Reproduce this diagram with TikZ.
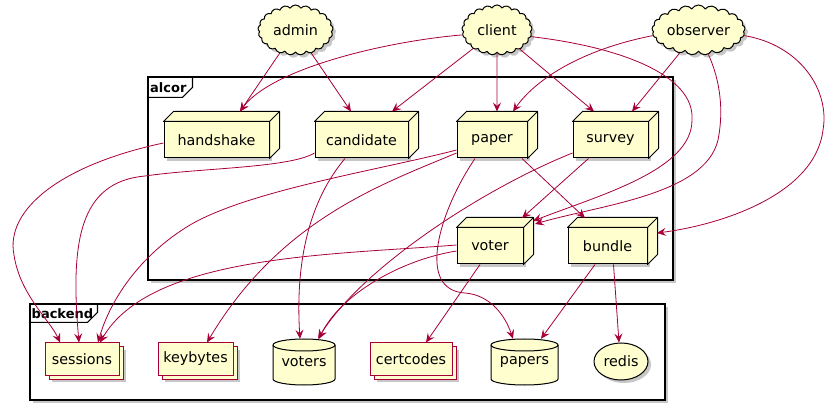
\documentclass[tikz,border=0pt]{standalone}
\usepackage{fontspec}
\setmainfont{DejaVu Sans}
\usetikzlibrary{shapes.symbols,shapes.geometric,shadows,arrows.meta,calc}
\definecolor{yel}{HTML}{FEFECE}
\definecolor{pred}{HTML}{A80036}

\newcommand\mkbox[5]{%
  \node[box3d, minimum width=#4pt] (#1) at (#2,#3) {#5};
  \path[boxface] (#1.north west) -- ++(10,-10) -| ([xshift=10pt,yshift=10pt]#1.south east) -- (#1.south east) -- (#1.north east) -- cycle;
  \draw[boxface, fill=none] (#1.north east) -- ++(10,-10);
}
\newcommand\mkcyl[5]{%
  \path[cylface] ({#2-#4},{#3-17}) -- ({#2-#4},{#3+17}) arc[start angle=180,end angle=360,x radius=#4pt,y radius=6pt] -- ({#2+#4},{#3-17}) arc[start angle=0,end angle=180,x radius=#4pt,y radius=6pt] -- cycle;
  \draw[cylface, fill=none] ({#2-#4},{#3-17}) arc[start angle=180,end angle=360,x radius=#4pt,y radius=6pt];
  \node[inner sep=0pt, minimum width={2*#4pt}, minimum height=46pt, font=\nfont] (#1) at (#2,#3) {\raisebox{-8pt}{#5}};
}
\newcommand\nfont{\fontsize{14.3}{16}\selectfont}

\begin{document}
\begin{tikzpicture}[x=1pt,y=-1pt,
  shd/.style={drop shadow={shadow xshift=3pt,shadow yshift=-3pt,opacity=0.22,fill=black}},
  cloudnode/.style={cloud, cloud puffs=21, cloud puff arc=120, cloud ignores aspect, draw=black, line width=1pt, fill=yel, inner sep=0pt, minimum height=50pt, shd, font=\nfont},
  box3d/.style={draw=black, line width=1pt, fill=yel, minimum height=36pt, inner sep=0pt, shd, font=\nfont},
  boxface/.style={draw=black, line width=1pt, fill=yel, line join=round},
  cylface/.style={draw=black, line width=1pt, fill=yel},
  stacknode/.style={draw=pred, line width=1pt, fill=yel, minimum height=32pt, inner sep=0pt,
    drop shadow={shadow xshift=7pt,shadow yshift=-7pt,opacity=0.22,fill=black},
    copy shadow={shadow xshift=4pt,shadow yshift=-4pt}, font=\nfont},
  framebox/.style={draw=black, line width=1.1pt, fill=white, shd, inner sep=0pt},
  framelabel/.style={anchor=west, inner sep=0pt, font=\bfseries\fontsize{13}{15}\selectfont},
  conn/.style={draw=pred, line width=0.8pt, -{Stealth[length=9pt,width=8pt,inset=3.5pt]}}
]
\useasboundingbox (0,0) rectangle (835,411);

% frames
\node[framebox, minimum width=525pt, minimum height=203pt] (alcor) at (410.5,178.5) {};
\draw[line width=1.1pt] ([yshift=-21pt]alcor.north west) -- ++(35,0) -- ++(10,-10) -- ++(0,-11);
\node[framelabel] (alcorlabel) at (150,88) {alcor};

\node[framebox, minimum width=635pt, minimum height=96pt] (backend) at (347.5,352) {};
\draw[line width=1.1pt] ([yshift=-19pt]backend.north west) -- ++(58,0) -- ++(10,-10) -- ++(0,-9);
\node[framelabel] (backendlabel) at (31.5,314) {backend};

% clouds
\node[cloudnode, minimum width=75pt] (admin) at (295.5,30) {admin};
\node[cloudnode, minimum width=70pt] (client) at (497,30) {client};
\node[cloudnode, minimum width=93pt] (observer) at (698.5,30) {observer};

% 3d boxes
\mkbox{handshake}{216.5}{140}{105}{handshake}
\mkbox{candidate}{361.5}{140}{93}{candidate}
\mkbox{paper}{492}{140}{70}{paper}
\mkbox{survey}{610.5}{140}{75}{survey}
\mkbox{voter}{490}{246}{66}{voter}
\mkbox{bundle}{607.5}{246}{79}{bundle}

% backend items
\node[stacknode, minimum width=74pt] (sessions) at (82,359) {sessions};
\node[stacknode, minimum width=75pt] (keybytes) at (195.5,359) {keybytes};
\node[stacknode, minimum width=82pt] (certcodes) at (411,359) {certcodes};
\mkcyl{voters}{304}{362}{31}{voters}
\mkcyl{papers}{524.5}{362}{33.5}{papers}
\node[ellipse, draw=black, line width=1pt, fill=yel, shd, minimum width=54pt, minimum height=37pt, inner sep=0pt, font=\nfont] (redis) at (621,361.5) {redis};

% connectors from actors
\draw[conn] (admin) -- ([xshift=23.5pt,yshift=10pt]handshake.north);
\draw[conn] (admin) -- ([xshift=-10.5pt,yshift=10pt]candidate.north);
\draw[conn] (client.188) .. controls (380,42) and (270,70) .. ([xshift=23.5pt,yshift=10pt]handshake.north);
\draw[conn] (client) -- ([xshift=30.5pt,yshift=10pt]candidate.north);
\draw[conn] (client) -- ([xshift=5pt,yshift=10pt]paper.north);
\draw[conn] (client) -- ([xshift=-16.5pt,yshift=10pt]survey.north);
\draw[conn] (client.349) .. controls (620,47) and (695,75) .. (692,120) .. controls (692,170) and (600,195) .. ([xshift=43pt,yshift=25pt]voter.center);
\draw[conn] (observer.187) .. controls (580,50) and (535,80) .. ([xshift=21pt,yshift=10pt]paper.north);
\draw[conn] (observer) -- ([xshift=21.5pt,yshift=10pt]survey.north);
\draw[conn] (observer.292) .. controls (720,80) and (724,110) .. (718,140) .. controls (705,195) and (600,205) .. ([xshift=45pt,yshift=22pt]voter.center);
\draw[conn] (observer.353) .. controls (800,45) and (830,90) .. (823,130) .. controls (815,195) and (720,225) .. ([xshift=49.5pt,yshift=13pt]bundle.center);

% connectors inside
\draw[conn] ([yshift=-3pt]handshake.west) .. controls (60,165) and (5,210) .. (14,255) .. controls (20,295) and (50,320) .. ([xshift=-22pt]sessions.north);
\draw[conn] ([yshift=-13pt]candidate.west) .. controls (290,168) and (200,168) .. (145,176) .. controls (80,182) and (70,240) .. ([xshift=-3pt]sessions.north);
\draw[conn] ([xshift=-16.5pt]candidate.south) .. controls (310,200) and (295,260) .. ([xshift=-4pt]voters.north);
\draw[conn] ([yshift=-10pt]paper.west) .. controls (380,170) and (250,190) .. (190,225) .. controls (140,255) and (110,300) .. ([xshift=16pt]sessions.north);
\draw[conn] ([yshift=-13pt]paper.west) .. controls (380,185) and (280,220) .. ([xshift=11.5pt]keybytes.north);
\draw[conn] ([xshift=-17pt]paper.south) .. controls (440,210) and (415,290) .. (465,293) .. controls (490,295) and (505,315) .. ([xshift=-11.5pt]papers.north);
\draw[conn] ([xshift=30pt]paper.south) -- ([xshift=-22.5pt,yshift=28pt]bundle.center);
\draw[conn] ([xshift=-22pt]survey.south) -- ([xshift=32pt,yshift=28pt]voter.center);
\draw[conn] ([yshift=-13pt]survey.west) .. controls (480,190) and (360,270) .. ([xshift=14pt]voters.north);
\draw[conn] ([yshift=1pt]voter.west) .. controls (330,255) and (150,255) .. ([xshift=18pt]sessions.north);
\draw[conn] ([yshift=-5pt]voter.west) .. controls (400,260) and (340,295) .. ([xshift=15pt]voters.north);
\draw[conn] ([xshift=-10pt]voter.south) -- ([xshift=15pt]certcodes.north);
\draw[conn] ([xshift=-12.5pt]bundle.south) -- ([xshift=16.5pt]papers.north);
\draw[conn] ([xshift=6pt]bundle.south) -- ([xshift=-2pt]redis.north);
\end{tikzpicture}
\end{document}
